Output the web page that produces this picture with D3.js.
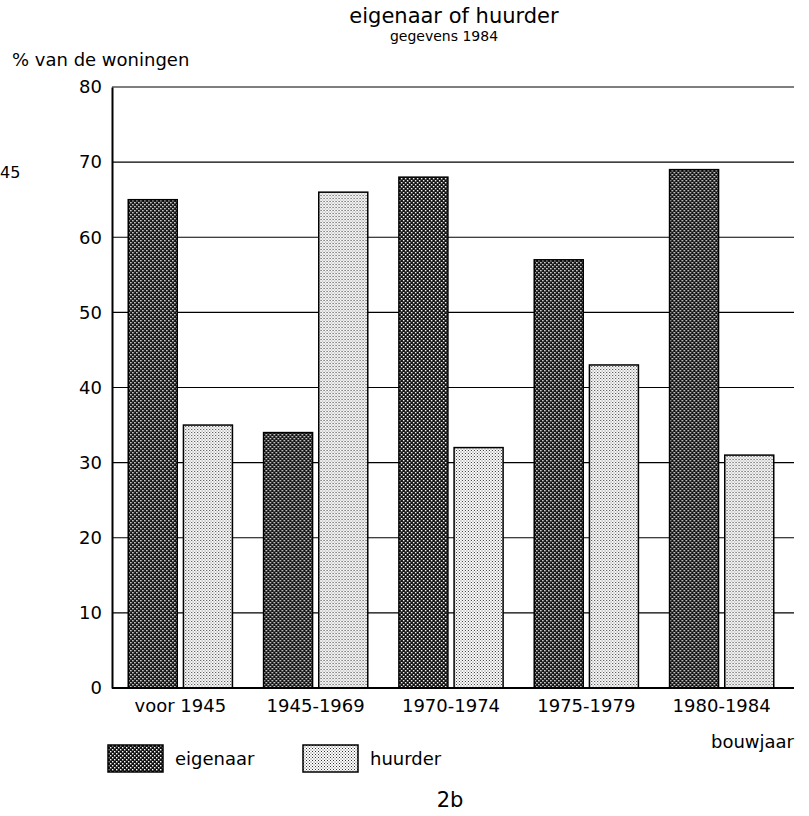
<!DOCTYPE html>
<html>
<head>
<meta charset="utf-8">
<script src="https://cdn.jsdelivr.net/npm/d3@7.9.0/dist/d3.min.js"></script>
<style>
  body { margin: 0; background: #fff; }
  text { font-family: 'DejaVu Sans', sans-serif; fill: #000; }
</style>
</head>
<body>
<svg id="chart"></svg>
<script>
// data
const categories = ['voor 1945', '1945-1969', '1970-1974', '1975-1979', '1980-1984'];
const series = ['eigenaar', 'huurder'];
const eigenaar = [65, 34, 68, 57, 69];
const huurder = [35, 66, 32, 43, 31];
const yTicks = [0, 10, 20, 30, 40, 50, 60, 70, 80];

const width = 809;
const height = 816;
const margin = { top: 87, right: 15, bottom: 128, left: 112 };

const svg = d3.select('#chart').attr('width', width).attr('height', height);

// screen-print style dot patterns
const defs = svg.append('defs');
const dark = defs.append('pattern')
  .attr('id', 'pat-dark')
  .attr('patternUnits', 'userSpaceOnUse')
  .attr('width', 4).attr('height', 4);
dark.append('rect').attr('width', 4).attr('height', 4).attr('fill', '#111');
dark.append('rect').attr('x', 0).attr('y', 0).attr('width', 1.4).attr('height', 1.4).attr('fill', '#fff');
dark.append('rect').attr('x', 2).attr('y', 2).attr('width', 1.4).attr('height', 1.4).attr('fill', '#fff');

const light = defs.append('pattern')
  .attr('id', 'pat-light')
  .attr('patternUnits', 'userSpaceOnUse')
  .attr('width', 3).attr('height', 3);
light.append('rect').attr('width', 3).attr('height', 3).attr('fill', '#fff');
light.append('rect').attr('x', 0).attr('y', 0).attr('width', 1).attr('height', 1).attr('fill', '#333');
light.append('rect').attr('x', 1.5).attr('y', 1.5).attr('width', 1).attr('height', 1).attr('fill', '#555');

const fills = { eigenaar: 'url(#pat-dark)', huurder: 'url(#pat-light)' };

const x0 = d3.scaleBand()
  .domain(categories)
  .range([margin.left, 790])
  .paddingInner(0.23)
  .paddingOuter(0.12);

const x1 = d3.scaleBand()
  .domain(series)
  .range([0, x0.bandwidth()])
  .paddingInner(0.112);

const y = d3.scaleLinear()
  .domain([0, 80])
  .range([height - margin.bottom, margin.top]);

const right = width - margin.right;

// gridlines
svg.append('g')
  .selectAll('line')
  .data(yTicks.filter(d => d > 0))
  .join('line')
  .attr('x1', margin.left)
  .attr('x2', right)
  .attr('y1', d => y(d))
  .attr('y2', d => y(d))
  .attr('stroke', '#000')
  .attr('stroke-width', 1.2);

// y axis
const yAxis = d3.axisLeft(y).tickValues(yTicks).tickSize(0).tickPadding(10);
const yg = svg.append('g')
  .attr('transform', `translate(${margin.left},0)`)
  .call(yAxis);
yg.select('.domain').attr('stroke', '#000').attr('stroke-width', 2);
yg.selectAll('text').style('font-size', '18px').style('font-family', "'DejaVu Sans', sans-serif");

// bars
const rows = categories.map((c, i) => ({ cat: c, eigenaar: eigenaar[i], huurder: huurder[i] }));
svg.append('g')
  .selectAll('g')
  .data(rows)
  .join('g')
  .attr('transform', d => `translate(${x0(d.cat)},0)`)
  .selectAll('rect')
  .data(d => series.map(s => ({ key: s, value: d[s] })))
  .join('rect')
  .attr('x', d => x1(d.key))
  .attr('width', x1.bandwidth())
  .attr('y', d => y(d.value))
  .attr('height', d => y(0) - y(d.value))
  .attr('fill', d => fills[d.key])
  .attr('stroke', '#000')
  .attr('stroke-width', 1.5);

// x axis
const xAxis = d3.axisBottom(x0).tickSize(0).tickPadding(11);
const xg = svg.append('g')
  .attr('transform', `translate(0,${y(0)})`)
  .call(xAxis);
xg.select('.domain').remove();
xg.selectAll('text').style('font-size', '18px').style('font-family', "'DejaVu Sans', sans-serif");
svg.append('line')
  .attr('x1', margin.left).attr('x2', right)
  .attr('y1', y(0)).attr('y2', y(0))
  .attr('stroke', '#000').attr('stroke-width', 2);

// titles
svg.append('text')
  .attr('x', 454).attr('y', 23)
  .attr('text-anchor', 'middle')
  .style('font-size', '21px')
  .text('eigenaar of huurder');
svg.append('text')
  .attr('x', 444).attr('y', 41)
  .attr('text-anchor', 'middle')
  .style('font-size', '14px')
  .text('gegevens 1984');
svg.append('text')
  .attr('x', 12).attr('y', 66)
  .style('font-size', '18px')
  .text('% van de woningen');
// stray label left over at the page edge
svg.append('text')
  .attr('x', 0).attr('y', 178)
  .style('font-size', '16px')
  .text('45');
svg.append('text')
  .attr('x', 794).attr('y', 748)
  .attr('text-anchor', 'end')
  .style('font-size', '18px')
  .text('bouwjaar');

// legend
const legend = svg.append('g')
  .selectAll('g')
  .data(series)
  .join('g')
  .attr('transform', (d, i) => `translate(${108 + i * 195},745)`);
legend.append('rect')
  .attr('width', 55).attr('height', 27)
  .attr('fill', d => fills[d])
  .attr('stroke', '#000')
  .attr('stroke-width', 1.5);
legend.append('text')
  .attr('x', 67).attr('y', 20)
  .style('font-size', '18px')
  .text(d => d);

svg.append('text')
  .attr('x', 450).attr('y', 807)
  .attr('text-anchor', 'middle')
  .style('font-size', '21px')
  .text('2b');
</script>
</body>
</html>
